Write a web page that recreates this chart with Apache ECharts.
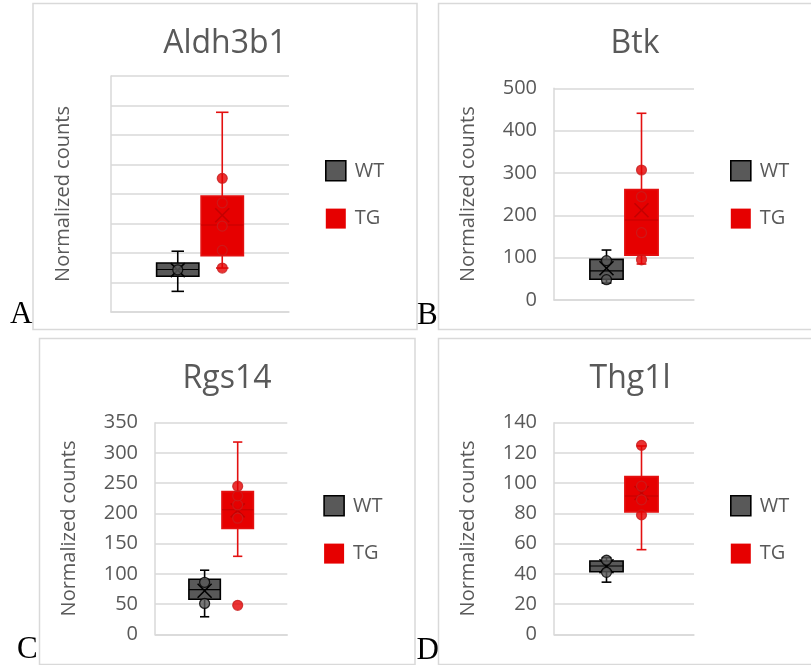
<!DOCTYPE html>
<html>
<head>
<meta charset="utf-8">
<script src="https://cdn.jsdelivr.net/npm/echarts@6/dist/echarts.min.js"></script>
<style>
  html, body { margin: 0; padding: 0; background: #ffffff; }
  #chart { width: 811px; height: 665px; }
</style>
</head>
<body>
<div id="chart"></div>
<script>
// Groups and genes
const groups = ['WT', 'TG'];
const genes = ['Aldh3b1', 'Btk', 'Rgs14', 'Thg1l'];
const panelLetters = ['A', 'B', 'C', 'D'];

// y-axis ticks per gene (the Aldh3b1 panel shows its grid without labels)
const aldh3b1Ticks = [0, 10, 20, 30, 40, 50, 60, 70, 80];
const btkTicks = [0, 100, 200, 300, 400, 500];
const rgs14Ticks = [0, 50, 100, 150, 200, 250, 300, 350];
const thg1lTicks = [0, 20, 40, 60, 80, 100, 120, 140];

// five-number summaries: [min, Q1, median, Q3, max]
const aldh3b1WT = [7.0, 12.1, 14.4, 16.6, 20.6];
const aldh3b1TG = [14.9, 19.1, 29.5, 39.3, 67.7];
const btkWT = [40, 49, 69, 96, 118];
const btkTG = [85, 106, 189, 261, 441];
const rgs14WT = [29, 58, 74, 91, 106];
const rgs14TG = [129, 175, 206, 236, 318];
const thg1lWT = [34.5, 41.4, 45.2, 48.5, 50.7];
const thg1lTG = [56, 81, 91.5, 104.3, 124.6];

// group means [WT, TG]
const aldh3b1Means = [14.2, 32.8];
const btkMeans = [75, 212];
const rgs14Means = [72, 205];
const thg1lMeans = [45, 93.5];

// individual samples shown as markers
const aldh3b1PointsWT = [14.3];
const aldh3b1PointsTG = [14.9, 20.9, 29.1, 37.0, 45.3];
const btkPointsWT = [48, 93];
const btkPointsTG = [95, 159, 244, 307];
const rgs14PointsWT = [51, 86];
const rgs14PointsTG = [48, 192, 214, 229, 245];
const thg1lPointsWT = [41, 49];
const thg1lPointsTG = [79, 89, 98, 125];

const FONT = '"Open Sans", "Noto Sans", sans-serif';
const TEXT_GREY = '#595959';
const GRID_GREY = '#d9d9d9';
const WT_FILL = '#595959';
const WT_LINE = '#000000';
const TG_FILL = '#e60000';
const TG_LINE = '#e31010';

const panels = [
  { ticks: aldh3b1Ticks, wt: aldh3b1WT, tg: aldh3b1TG, means: aldh3b1Means, ptsWT: aldh3b1PointsWT, ptsTG: aldh3b1PointsTG,
    grid: { left: 111, top: 76, width: 178, height: 236 }, showLabels: false, nameGap: 38,
    frame: [33, 3.5, 384, 326], titleX: 225, titleY: 44, legend: [325, 160], letter: [10, 330] },
  { ticks: btkTicks, wt: btkWT, tg: btkTG, means: btkMeans, ptsWT: btkPointsWT, ptsTG: btkPointsTG,
    grid: { left: 554, top: 88.3, width: 140, height: 211.7 }, showLabels: true, nameGap: 76,
    frame: [438.5, 3.5, 400, 326], titleX: 635, titleY: 44, legend: [730, 160], letter: [417, 331] },
  { ticks: rgs14Ticks, wt: rgs14WT, tg: rgs14TG, means: rgs14Means, ptsWT: rgs14PointsWT, ptsTG: rgs14PointsTG,
    grid: { left: 155, top: 422.7, width: 132.3, height: 211.6 }, showLabels: true, nameGap: 76,
    frame: [39.5, 338.5, 375.5, 326], titleX: 227, titleY: 378.5, legend: [323.3, 495], letter: [17, 665] },
  { ticks: thg1lTicks, wt: thg1lWT, tg: thg1lTG, means: thg1lMeans, ptsWT: thg1lPointsWT, ptsTG: thg1lPointsTG,
    grid: { left: 554, top: 422.7, width: 140, height: 211.6 }, showLabels: true, nameGap: 76,
    frame: [438.5, 338.5, 400, 326], titleX: 630, titleY: 378.5, legend: [730, 495], letter: [416.5, 666] }
];

// one blank slot either side of the two groups keeps the boxes close to the centre
const axisCategories = [''].concat(groups, [' ']);

function makeBoxRenderer(fill, stroke, innerLine) {
  return function (params, api) {
    const cat = api.value(0);
    const band = api.size([1, 0])[0];
    const boxW = band * 0.95;
    const capW = band * 0.28;
    const pMin = api.coord([cat, api.value(1)]);
    const pQ1 = api.coord([cat, api.value(2)]);
    const pMed = api.coord([cat, api.value(3)]);
    const pQ3 = api.coord([cat, api.value(4)]);
    const pMax = api.coord([cat, api.value(5)]);
    const pMean = api.coord([cat, api.value(6)]);
    const cx = pMed[0];
    const lineStyle = { stroke: stroke, lineWidth: 1.6 };
    const xs = 7;
    return {
      type: 'group',
      children: [
        { type: 'line', shape: { x1: cx, y1: pQ3[1], x2: cx, y2: pMax[1] }, style: lineStyle },
        { type: 'line', shape: { x1: cx, y1: pQ1[1], x2: cx, y2: pMin[1] }, style: lineStyle },
        { type: 'line', shape: { x1: cx - capW / 2, y1: pMax[1], x2: cx + capW / 2, y2: pMax[1] }, style: lineStyle },
        { type: 'line', shape: { x1: cx - capW / 2, y1: pMin[1], x2: cx + capW / 2, y2: pMin[1] }, style: lineStyle },
        { type: 'rect', shape: { x: cx - boxW / 2, y: pQ3[1], width: boxW, height: pQ1[1] - pQ3[1] },
          style: { fill: fill, stroke: stroke, lineWidth: 1.6 } },
        { type: 'line', shape: { x1: cx - boxW / 2, y1: pMed[1], x2: cx + boxW / 2, y2: pMed[1] },
          style: { stroke: innerLine, lineWidth: 1.2 } },
        { type: 'line', shape: { x1: cx - xs, y1: pMean[1] - xs, x2: cx + xs, y2: pMean[1] + xs },
          style: { stroke: innerLine, lineWidth: 1.6 } },
        { type: 'line', shape: { x1: cx - xs, y1: pMean[1] + xs, x2: cx + xs, y2: pMean[1] - xs },
          style: { stroke: innerLine, lineWidth: 1.6 } }
      ]
    };
  };
}

const grids = [], xAxes = [], yAxes = [], series = [], legends = [], graphics = [];

panels.forEach(function (p, i) {
  grids.push(Object.assign({ containLabel: false }, p.grid));
  xAxes.push({
    type: 'category', gridIndex: i, data: axisCategories, boundaryGap: true,
    axisLine: { show: true, lineStyle: { color: GRID_GREY, width: 1.5 } },
    axisTick: { show: false }, axisLabel: { show: false }, splitLine: { show: false }
  });
  const t = p.ticks;
  yAxes.push({
    type: 'value', gridIndex: i, min: t[0], max: t[t.length - 1], interval: t[1] - t[0],
    name: 'Normalized counts', nameLocation: 'middle', nameGap: p.nameGap,
    nameTextStyle: { fontSize: 20, color: TEXT_GREY, fontFamily: FONT },
    axisLine: { show: true, lineStyle: { color: GRID_GREY, width: 1.5 } },
    axisTick: { show: false },
    axisLabel: { show: p.showLabels, fontSize: 20, color: TEXT_GREY, fontFamily: FONT, margin: 17 },
    splitLine: { show: true, lineStyle: { color: GRID_GREY, width: 1.5 } }
  });

  series.push({
    type: 'custom', name: 'WT', xAxisIndex: i, yAxisIndex: i, z: 2,
    renderItem: makeBoxRenderer(WT_FILL, WT_LINE, WT_LINE),
    encode: { x: 0, y: [1, 2, 3, 4, 5, 6] },
    itemStyle: { color: WT_FILL },
    data: [[groups[0]].concat(p.wt, [p.means[0]])]
  });
  series.push({
    type: 'custom', name: 'TG', xAxisIndex: i, yAxisIndex: i, z: 2,
    renderItem: makeBoxRenderer(TG_FILL, TG_LINE, '#c40000'),
    encode: { x: 0, y: [1, 2, 3, 4, 5, 6] },
    itemStyle: { color: TG_FILL },
    data: [[groups[1]].concat(p.tg, [p.means[1]])]
  });
  series.push({
    type: 'scatter', name: 'WT', xAxisIndex: i, yAxisIndex: i, z: 3,
    symbol: 'circle', symbolSize: 10,
    itemStyle: { color: WT_FILL, borderColor: WT_LINE, borderWidth: 1.3 },
    data: p.ptsWT.map(function (v) { return [groups[0], v]; })
  });
  series.push({
    type: 'scatter', name: 'TG', xAxisIndex: i, yAxisIndex: i, z: 3,
    symbol: 'circle', symbolSize: 10,
    itemStyle: { color: TG_FILL, borderColor: '#c81e1e', borderWidth: 1.2 },
    data: p.ptsTG.map(function (v) { return [groups[1], v]; })
  });

  legends.push({
    left: p.legend[0], top: p.legend[1], orient: 'vertical', padding: 0,
    itemWidth: 20, itemHeight: 20, itemGap: 27, selectedMode: false,
    textStyle: { fontSize: 20, color: TEXT_GREY, fontFamily: FONT, padding: [0, 0, 0, 4] },
    data: [
      { name: 'WT', icon: 'rect', itemStyle: { color: WT_FILL, borderColor: WT_LINE, borderWidth: 1.6 } },
      { name: 'TG', icon: 'rect', itemStyle: { color: TG_FILL, borderWidth: 0 } }
    ]
  });

  graphics.push({
    type: 'rect', silent: true, z: -1,
    shape: { x: p.frame[0], y: p.frame[1], width: p.frame[2], height: p.frame[3] },
    style: { fill: 'none', stroke: GRID_GREY, lineWidth: 1.5 }
  });
  graphics.push({
    type: 'text', silent: true, x: p.titleX, y: p.titleY,
    style: { text: genes[i], font: '32px ' + FONT, fill: TEXT_GREY, textAlign: 'center', textVerticalAlign: 'middle' }
  });
  graphics.push({
    type: 'text', silent: true, x: p.letter[0], y: p.letter[1],
    style: { text: panelLetters[i], font: '31px "Liberation Serif", "DejaVu Serif", serif', fill: '#000000',
      textAlign: 'left', textVerticalAlign: 'bottom' }
  });
});

const chart = echarts.init(document.getElementById('chart'), null, { renderer: 'canvas' });
chart.setOption({
  animation: false,
  backgroundColor: '#ffffff',
  grid: grids,
  xAxis: xAxes,
  yAxis: yAxes,
  legend: legends,
  series: series,
  graphic: graphics
});
</script>
</body>
</html>
